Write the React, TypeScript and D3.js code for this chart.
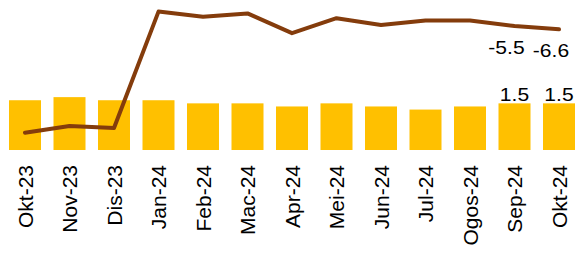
import * as d3 from 'd3';
import React from 'react';

// months (Malay abbreviations) as on the axis
const months = ['Okt-23', 'Nov-23', 'Dis-23', 'Jan-24', 'Feb-24', 'Mac-24', 'Apr-24', 'Mei-24', 'Jun-24', 'Jul-24', 'Ogos-24', 'Sep-24', 'Okt-24'];
// bars, left axis
const barValues = [1.6, 1.7, 1.6, 1.6, 1.5, 1.5, 1.4, 1.5, 1.4, 1.3, 1.4, 1.5, 1.5];
// line, right axis
const lineValues = [-41.1, -38.8, -39.5, -0.7, -2.4, -1.3, -7.9, -2.9, -5.2, -3.7, -3.7, -5.5, -6.6];
// only these months carry data labels
const labelled = ['Sep-24', 'Okt-24'];

const width = 577;
const height = 253;

const App = () => {
  const x = d3.scalePoint<string>().domain(months).range([25, 559]);
  const barW = 32;

  const yBar = d3.scaleLinear().domain([0, 5]).range([150, -5.5]);
  const yLine = d3.scaleLinear().domain([-45, 5]).range([144.5, -5.5]);

  const line = d3.line<number>()
    .x((_, i) => x(months[i])!)
    .y(d => yLine(d));

  const font = '"Liberation Sans", Arial, sans-serif';

  return (
    <svg width={width} height={height} style={{ position: 'absolute', left: 0, top: 0 }} fontFamily={font}>
      {/* bars */}
      {barValues.map((v, i) => (
        <rect key={months[i]} x={x(months[i])! - barW / 2} y={yBar(v)} width={barW} height={yBar(0) - yBar(v)} fill="#FFC000" />
      ))}

      {/* line */}
      <path d={line(lineValues)!} fill="none" stroke="#843C0C" strokeWidth={4} strokeLinejoin="round" strokeLinecap="round" />

      {/* data labels, text in the original is a bit stretched sideways */}
      {months.map((m, i) => labelled.includes(m) ? (
        <g key={'lbl' + m} fontSize={18} fill="#000">
          <text transform={`translate(${x(m)},${yBar(barValues[i]) - 2}) scale(1.17,1)`} textAnchor="middle">{barValues[i].toFixed(1)}</text>
          <text transform={`translate(${x(m)! - 8},${yLine(lineValues[i]) + 28}) scale(1.17,1)`} textAnchor="middle">{lineValues[i].toFixed(1)}</text>
        </g>
      ) : null)}

      {/* category axis */}
      {months.map(m => (
        <text key={'tick' + m} transform={`translate(${x(m)! + 7.5},165) rotate(-90)`} textAnchor="end" fontSize={21} fill="#000">{m}</text>
      ))}
    </svg>
  );
};

export default App;
